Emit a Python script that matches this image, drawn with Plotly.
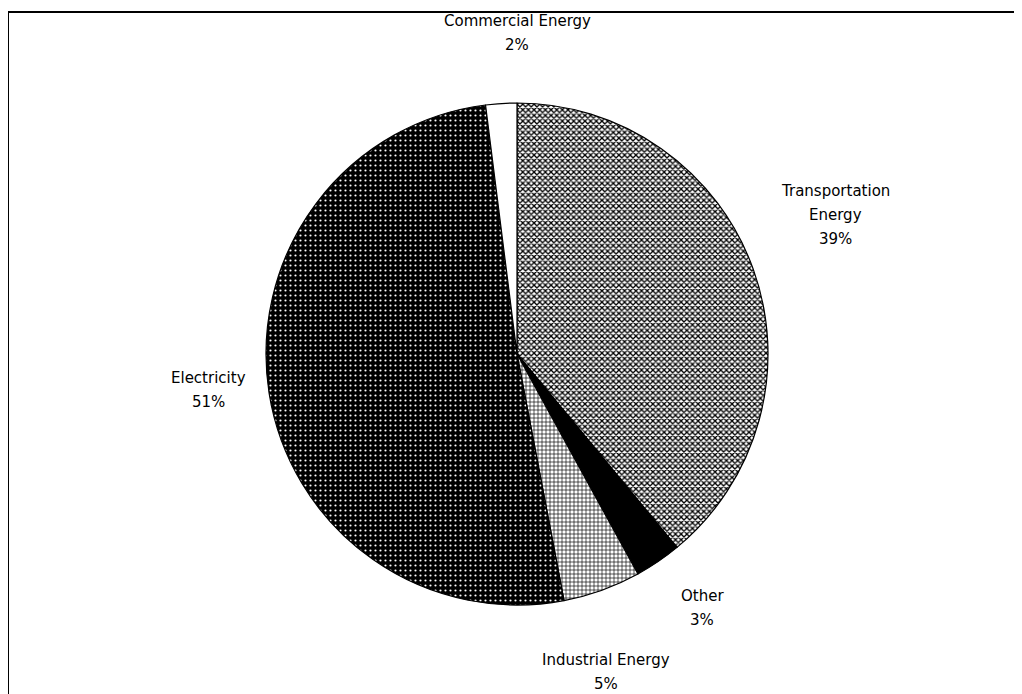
import plotly.graph_objects as go

# Energy use shares (clockwise from 12 o'clock)
labels = ["Transportation Energy", "Other", "Industrial Energy", "Electricity", "Commercial Energy"]
values = [39, 3, 5, 51, 2]
label_lines = [["Transportation", "Energy"], ["Other"], ["Industrial Energy"], ["Electricity"], ["Commercial Energy"]]

# pattern fills to mimic the old black & white print
shapes = ["x", "", "+", ".", ""]
fg = ["black", "black", "black", "white", "black"]
bg = ["white", "black", "white", "black", "white"]
psize = [4, 8, 4, 5, 8]
solid = [0.55, 0.3, 0.3, 0.15, 0.3]

# label centres in reference pixels
lab_x = [835, 702, 606, 208, 517]
lab_y = [215, 608, 672, 390, 33]
line_gap = 24

# page has an 8px body margin, so size the figure to fit and shift by it
OFF = 8
W, H = 1022 - OFF, 694 - OFF


def px(x):
    return (x - OFF) / W


def py(y):
    return 1 - (y - OFF) / H


cx, cy, r = 517, 354, 251

fig = go.Figure(go.Pie(
    labels=labels,
    values=values,
    sort=False,
    direction="clockwise",
    rotation=0,
    textinfo="none",
    hoverinfo="label+percent",
    showlegend=False,
    marker=dict(
        colors=bg,
        line=dict(color="black", width=1.2),
        pattern=dict(shape=shapes, fgcolor=fg, bgcolor=bg, size=psize, solidity=solid),
    ),
    domain=dict(x=[px(cx - r), px(cx + r)], y=[py(cy + r), py(cy - r)]),
))

for i in range(len(labels)):
    pct = round(100 * values[i] / sum(values))
    lines = label_lines[i] + [f"{pct}%"]
    n = len(lines)
    for k, t in enumerate(lines):
        y = lab_y[i] + line_gap * (k - (n - 1) / 2)
        fig.add_annotation(
            x=px(lab_x[i]), y=py(y), xref="paper", yref="paper",
            text=t, showarrow=False,
            font=dict(family="DejaVu Sans", size=15, color="black"),
            xanchor="center", yanchor="middle",
        )

# chart frame: only top and left edges show in the crop
fig.add_shape(type="rect", xref="paper", yref="paper",
              x0=px(8), x1=1.05, y0=-0.05, y1=py(12),
              line=dict(color="black", width=2))

fig.update_layout(
    width=W, height=H,
    margin=dict(l=0, r=0, t=0, b=0),
    paper_bgcolor="white",
    plot_bgcolor="white",
)

fig.write_html("out.html")
